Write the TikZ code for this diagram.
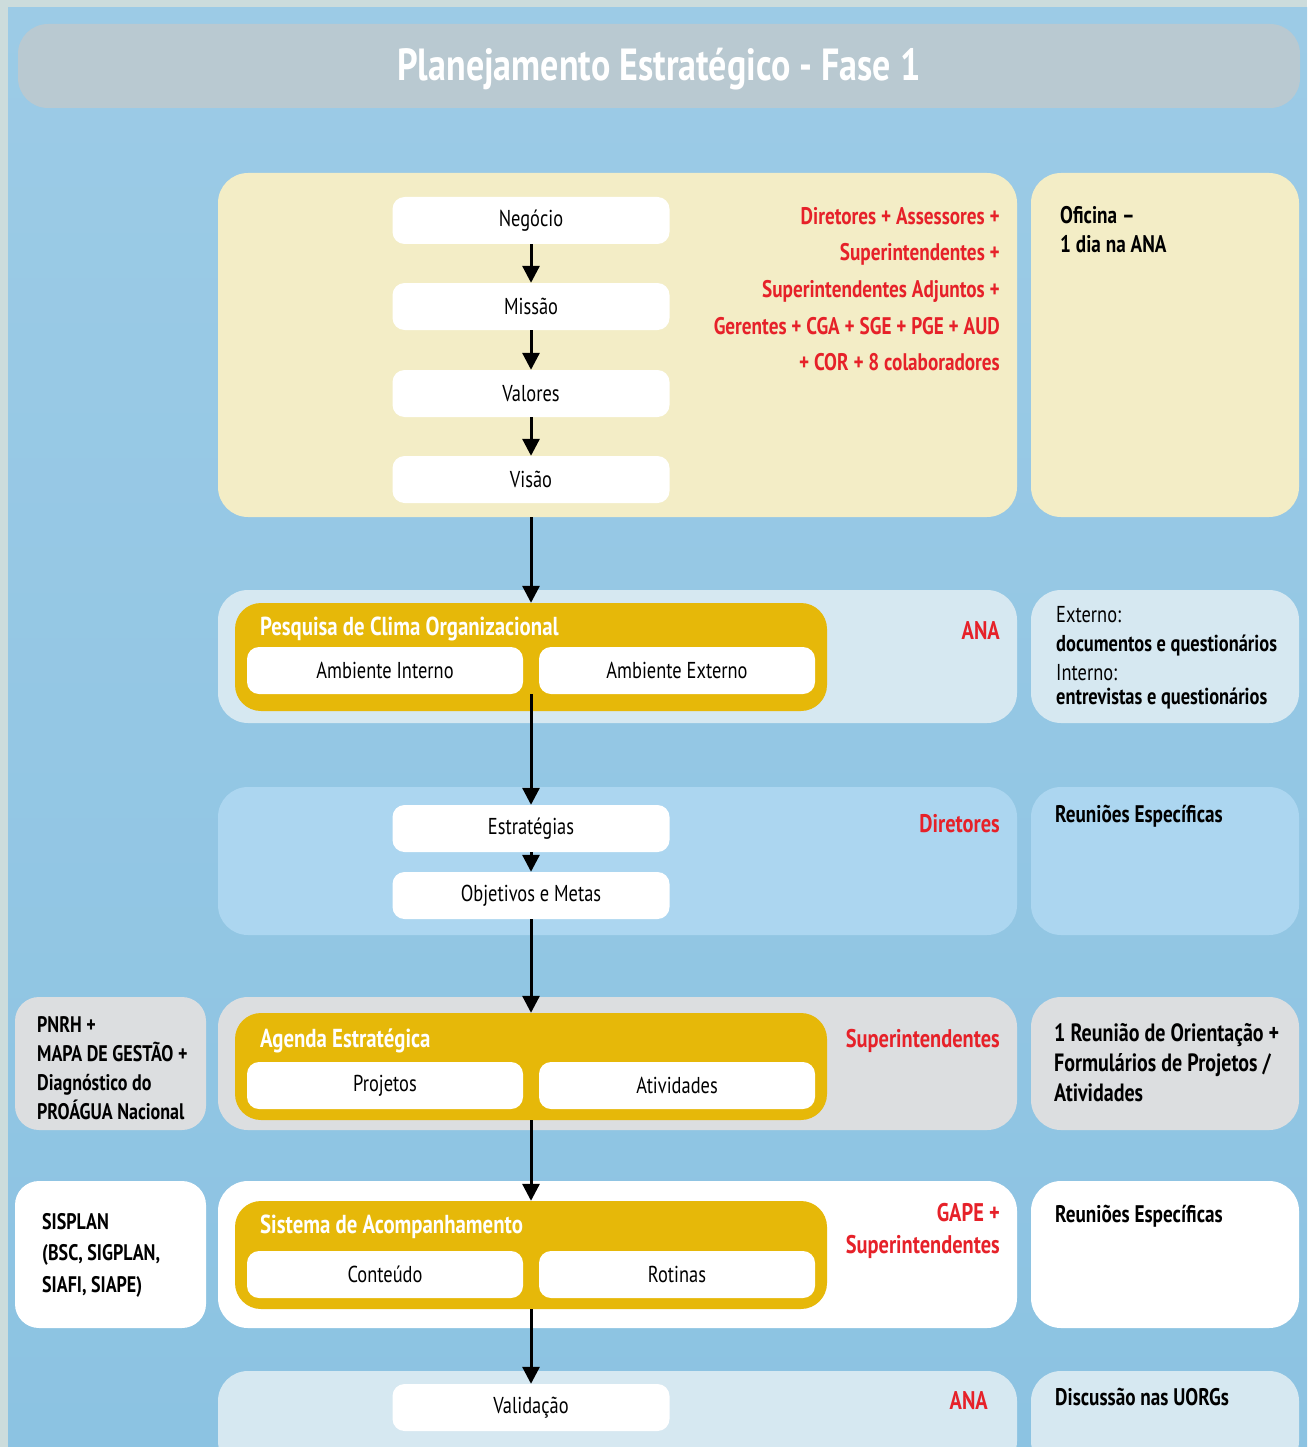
\documentclass[tikz,border=0pt]{standalone}
\usepackage{fontspec}
\setmainfont[FakeStretch=0.8]{PT Sans}
\usetikzlibrary{arrows.meta}

\definecolor{frame}{HTML}{CCDCDC}
\definecolor{water}{HTML}{9CCBE6}
\definecolor{waterdark}{HTML}{8CC3E2}
\definecolor{titlebar}{HTML}{B9C9D1}
\definecolor{cream}{HTML}{F3EDC6}
\definecolor{paleblue}{HTML}{D6E8F1}
\definecolor{skyblue}{HTML}{ACD6F0}
\definecolor{lightgrey}{HTML}{DCDEE0}
\definecolor{gold}{HTML}{E6B809}
\definecolor{alert}{HTML}{E62129}

\tikzset{
  panel/.style={rounded corners=30pt, inner sep=0pt, minimum width=799pt},
  sidepanel/.style={rounded corners=30pt, inner sep=0pt, minimum width=268pt},
  leftpanel/.style={rounded corners=24pt, inner sep=0pt, minimum width=191pt, minimum height=133pt},
  whitebox/.style={fill=white, rounded corners=12pt, inner sep=0pt, minimum width=277pt, minimum height=47pt,
    font=\fontsize{23}{27}\selectfont},
  halfbox/.style={whitebox, minimum width=276pt},
  goldbox/.style={fill=gold, rounded corners=26pt, inner sep=0pt, minimum width=592pt, minimum height=108pt},
  goldtitle/.style={text=white, anchor=west, inner sep=0pt, font=\bfseries\fontsize{26}{30}\selectfont},
  redtext/.style={text=alert, anchor=north east, align=right, inner sep=0pt, font=\bfseries\fontsize{25.5}{32}\selectfont},
  note/.style={anchor=north west, align=left, inner sep=0pt, font=\bfseries\fontsize{24}{29}\selectfont},
  flow/.style={line width=3pt, -{Triangle[width=17pt,length=17pt]}},
}

\begin{document}
\begin{tikzpicture}[x=1pt,y=-1pt]
  \useasboundingbox (0,0) rectangle (1307,1447);
  % background
  \fill[frame] (0,0) rectangle (1307,1447);
  \shade[top color=water, bottom color=waterdark] (8,8) rectangle (1307,1447);
  \node[fill=titlebar, rounded corners=30pt, minimum width=1282pt, minimum height=84pt, inner sep=0pt] (title) at (659,66) {};
  \node[text=white, font=\bfseries\fontsize{45}{50}\selectfont] at (659,69) {Planejamento Estratégico - Fase 1};

  % Fase: negocio ... visao
  \node[panel, fill=cream, minimum height=344pt] (blk1) at (617.5,345) {};
  \node[sidepanel, fill=cream, minimum height=344pt] (side1) at (1165,345) {};
  \node[whitebox] (negocio) at (531,220.5) {Negócio};
  \node[whitebox] (missao) at (531,306.5) {Missão};
  \node[whitebox] (valores) at (531,393.5) {Valores};
  \node[whitebox] (visao) at (531,479.5) {Visão};
  \node[redtext, font=\bfseries\fontsize{24}{36.6}\selectfont] (quem1) at (1000,207) {Diretores + Assessores +\\Superintendentes +\\Superintendentes Adjuntos +\\Gerentes + CGA + SGE + PGE + AUD\\+ COR + 8 colaboradores};
  \node[note] (como1) at (1060,206) {Oficina –\\1 dia na ANA};
  \draw[flow] (negocio) -- (missao);
  \draw[flow] (missao) -- (valores);
  \draw[flow] (valores) -- (visao);

  % pesquisa de clima
  \node[panel, fill=paleblue, minimum height=133pt] (blk2) at (617.5,656.5) {};
  \node[sidepanel, fill=paleblue, minimum height=133pt] (side2) at (1165,656.5) {};
  \node[goldbox] (pesquisa) at (531,657) {};
  \node[goldtitle] at (260,629) {Pesquisa de Clima Organizacional};
  \node[halfbox] (interno) at (385,670.5) {Ambiente Interno};
  \node[halfbox] (externo) at (677,670.5) {Ambiente Externo};
  \node[redtext, anchor=east] (quem2) at (1000,631) {ANA};
  \node[note, font=\fontsize{23}{29}\selectfont] (como2) at (1056,606)
    {Externo:\\\textbf{documentos e questionários}\\Interno:\\[-5pt]\textbf{entrevistas e questionários}};
  \draw[flow] (visao |- blk1.south) -- (pesquisa);

  % estrategias
  \node[panel, fill=skyblue, minimum height=148pt] (blk3) at (617.5,861) {};
  \node[sidepanel, fill=skyblue, minimum height=148pt] (side3) at (1165,861) {};
  \node[whitebox] (estrategias) at (531,828.5) {Estratégias};
  \node[whitebox] (objetivos) at (531,895.5) {Objetivos e Metas};
  \node[redtext, anchor=east] (quem3) at (1000,824) {Diretores};
  \node[note] (como3) at (1055,805) {Reuniões Específicas};
  \draw[flow] (interno.south -| pesquisa) -- (estrategias);
  \draw[flow] (estrategias) -- (objetivos);

  % agenda estrategica
  \node[panel, fill=lightgrey, minimum height=133pt] (blk4) at (617.5,1063.5) {};
  \node[sidepanel, fill=lightgrey, minimum height=133pt] (side4) at (1165,1063.5) {};
  \node[leftpanel, fill=lightgrey] (fonte4) at (110.5,1063.5) {};
  \node[goldbox, minimum height=107pt] (agenda) at (531,1066.5) {};
  \node[goldtitle] at (260,1041) {Agenda Estratégica};
  \node[halfbox] (projetos) at (385,1085.5) {Projetos};
  \node[halfbox] (atividades) at (677,1085.5) {Atividades};
  \node[redtext, anchor=east] (quem4) at (1000,1041) {Superintendentes};
  \node[note, font=\bfseries\fontsize{25}{30}\selectfont] (como4) at (1054,1023)
    {1 Reunião de Orientação +\\Formulários de Projetos /\\Atividades};
  \node[note, font=\bfseries\fontsize{22.5}{29}\selectfont] (insumo4) at (37,1016) {PNRH +\\MAPA DE GESTÃO +\\Diagnóstico do\\PROÁGUA Nacional};
  \draw[flow] (objetivos) -- (agenda);

  % sistema de acompanhamento
  \node[panel, fill=white, minimum height=147pt] (blk5) at (617.5,1254.5) {};
  \node[sidepanel, fill=white, minimum height=147pt] (side5) at (1165,1254.5) {};
  \node[leftpanel, fill=white, minimum height=147pt] (fonte5) at (110.5,1254.5) {};
  \node[goldbox] (sistema) at (531,1255) {};
  \node[goldtitle] at (260,1227) {Sistema de Acompanhamento};
  \node[halfbox] (conteudo) at (385,1274.5) {Conteúdo};
  \node[halfbox] (rotinas) at (677,1274.5) {Rotinas};
  \node[redtext] (quem5) at (1000,1203) {GAPE +\\Superintendentes};
  \node[note] (como5) at (1055,1205) {Reuniões Específicas};
  \node[note, font=\bfseries\fontsize{22.5}{31.5}\selectfont] (insumo5) at (42,1213) {SISPLAN\\(BSC, SIGPLAN,\\SIAFI, SIAPE)};
  \draw[flow] (agenda) -- (sistema);

  % validacao
  \node[panel, fill=paleblue, minimum height=100pt] (blk6) at (617.5,1421) {};
  \node[sidepanel, fill=paleblue, minimum height=100pt] (side6) at (1165,1421) {};
  \node[whitebox] (validacao) at (531,1407.5) {Validação};
  \node[redtext, anchor=east] (quem6) at (988,1401) {ANA};
  \node[note] (como6) at (1055,1388) {Discussão nas UORGs};
  \draw[flow] (sistema) -- (validacao);
\end{tikzpicture}
\end{document}
